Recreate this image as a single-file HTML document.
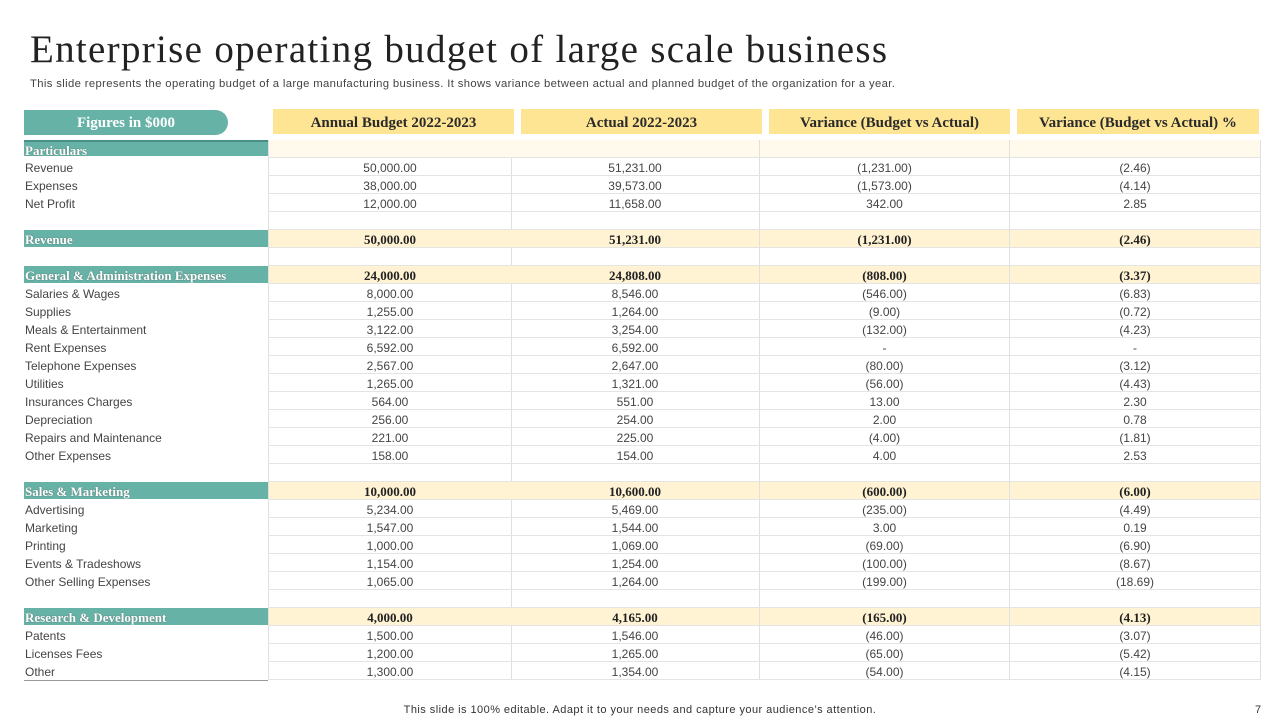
<!DOCTYPE html>
<html><head><meta charset="utf-8">
<style>
body{margin:0;width:1280px;height:720px;background:#fff;position:relative;overflow:hidden;font-family:"Liberation Sans",sans-serif;color:#333}
#title{position:absolute;left:30px;top:28px;font-family:"Liberation Serif",serif;font-size:39px;color:#222;white-space:nowrap;letter-spacing:1.3px;line-height:44px}
#sub{position:absolute;left:30px;top:78px;font-size:11.3px;color:#444;white-space:nowrap;letter-spacing:0.35px}
.hdr{position:absolute;top:109px;height:25px;background:#fde594;font-family:"Liberation Serif",serif;font-weight:bold;font-size:15px;color:#2a2a2a;text-align:center;line-height:28px;white-space:nowrap}
#pill{position:absolute;left:24px;top:110px;width:204px;height:25px;background:#66b2a6;border-radius:0 13px 13px 0;color:#fff;font-family:"Liberation Serif",serif;font-weight:bold;font-size:15px;text-align:center;line-height:27px}
.row{position:absolute;left:24px;width:1237px;height:18px}
.cell{position:absolute;top:0;height:17px;line-height:20px;font-size:12px;text-align:center;border-bottom:1px solid #e4e4e4;border-right:1px solid #e0e0e0;white-space:nowrap;color:#444}
.lab{left:0;width:244px;text-align:left;padding-left:1px;box-sizing:border-box;border-right:none;border-bottom:none}
.sec .lab{background:#66b2a6;color:#fff;font-family:"Liberation Serif",serif;font-weight:bold;font-size:13px;text-shadow:0 0 1px #555}
.sec .num{background:#fff3d4;font-family:"Liberation Serif",serif;font-weight:bold;font-size:13px;color:#222}
.part .num{background:#fffaec}
#foot{position:absolute;left:0;width:1280px;top:704px;text-align:center;font-size:11px;color:#333;letter-spacing:0.45px}
#pg{position:absolute;left:1255px;top:704px;font-size:11px;color:#333}
#bl{position:absolute;left:24px;top:680px;width:244px;height:1px;background:#999}
</style></head><body>
<div id="title">Enterprise operating budget of large scale business</div>
<div id="sub">This slide represents the operating budget of a large manufacturing business. It shows variance between actual and planned budget of the organization for a year.</div>
<div id="pill">Figures in $000</div>
<div class="hdr" style="left:273px;width:241px">Annual Budget 2022-2023</div>
<div class="hdr" style="left:521px;width:241px">Actual 2022-2023</div>
<div class="hdr" style="left:769px;width:241px">Variance (Budget vs Actual)</div>
<div class="hdr" style="left:1017px;width:242px">Variance (Budget vs Actual) %</div>
<div id="tbl"></div>
<div id="bl"></div>
<div id="foot">This slide is 100% editable. Adapt it to your needs and capture your audience’s attention.</div>
<div id="pg">7</div>
<script>
const labels=["Particulars","Revenue","Expenses","Net Profit","","Revenue","","General & Administration Expenses","Salaries & Wages","Supplies","Meals & Entertainment","Rent Expenses","Telephone Expenses","Utilities","Insurances Charges","Depreciation","Repairs and Maintenance","Other Expenses","","Sales & Marketing","Advertising","Marketing","Printing","Events & Tradeshows","Other Selling Expenses","","Research & Development","Patents","Licenses Fees","Other"];
const kinds=["part","n","n","n","b","sec","b","sec","n","n","n","n","n","n","n","n","n","n","b","sec","n","n","n","n","n","b","sec","n","n","n"];
const budget=["","50,000.00","38,000.00","12,000.00","","50,000.00","","24,000.00","8,000.00","1,255.00","3,122.00","6,592.00","2,567.00","1,265.00","564.00","256.00","221.00","158.00","","10,000.00","5,234.00","1,547.00","1,000.00","1,154.00","1,065.00","","4,000.00","1,500.00","1,200.00","1,300.00"];
const actual=["","51,231.00","39,573.00","11,658.00","","51,231.00","","24,808.00","8,546.00","1,264.00","3,254.00","6,592.00","2,647.00","1,321.00","551.00","254.00","225.00","154.00","","10,600.00","5,469.00","1,544.00","1,069.00","1,254.00","1,264.00","","4,165.00","1,546.00","1,265.00","1,354.00"];
const variance=["","(1,231.00)","(1,573.00)","342.00","","(1,231.00)","","(808.00)","(546.00)","(9.00)","(132.00)","-","(80.00)","(56.00)","13.00","2.00","(4.00)","4.00","","(600.00)","(235.00)","3.00","(69.00)","(100.00)","(199.00)","","(165.00)","(46.00)","(65.00)","(54.00)"];
const pct=["","(2.46)","(4.14)","2.85","","(2.46)","","(3.37)","(6.83)","(0.72)","(4.23)","-","(3.12)","(4.43)","2.30","0.78","(1.81)","2.53","","(6.00)","(4.49)","0.19","(6.90)","(8.67)","(18.69)","","(4.13)","(3.07)","(5.42)","(4.15)"];
const tbl=document.getElementById('tbl');
const colL=[244,487,736,986],colW=[243,249,250,251];
labels.forEach((lab,i)=>{
  const r=document.createElement('div');
  r.className='row '+(kinds[i]==='sec'||kinds[i]==='part'?'sec ':'')+(kinds[i]==='part'?'part':'');
  r.style.top=(140+i*18)+'px';
  
  
  const l=document.createElement('div');
  l.className='cell lab';
  l.textContent=lab;
  if(kinds[i]==='part'){l.style.borderTop='2px solid #4a8f85';l.style.height='16px';l.style.lineHeight='18px';}
  
  
  r.appendChild(l);
  [budget,actual,variance,pct].forEach((arr,j)=>{
    const c=document.createElement('div');
    c.className='cell num';
    c.style.left=colL[j]+'px';c.style.width=(colW[j]-1)+'px';
    if(j===0)c.style.borderLeft='1px solid #e0e0e0';
    c.textContent=arr[i];
    
    
    r.appendChild(c);
  });
  tbl.appendChild(r);
});
</script>
</body></html>
